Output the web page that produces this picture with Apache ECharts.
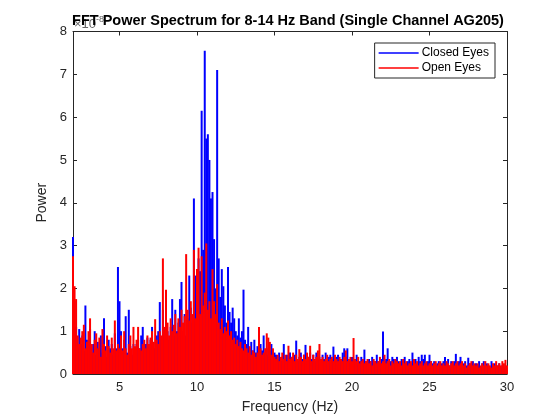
<!DOCTYPE html>
<html>
<head>
<meta charset="utf-8">
<script src="https://cdn.jsdelivr.net/npm/echarts@6/dist/echarts.min.js"></script>
<style>
  html, body { margin: 0; padding: 0; background: #fff; }
  #chart { width: 560px; height: 420px; }
</style>
</head>
<body>
<div id="chart"></div>
<script>
// frequency bins: 2 Hz .. 30 Hz, 0.1 Hz apart
const freqStart = 2;
const freqStep = 0.1;
const xTicks = [5, 10, 15, 20, 25, 30];

// power (x1e-8), one row per Hz
const closedEyes = [
  3.2, 1.7, 1.1, 0.6, 1.05, 0.7, 0.9, 0.55, 1.6, 0.8,
  0.6, 1.05, 0.5, 0.7, 1.0, 0.45, 0.75, 0.6, 0.9, 0.5,
  1.3, 0.65, 0.4, 0.8, 0.6, 0.7, 0.45, 0.95, 0.6, 2.5,
  1.7, 1.0, 0.6, 0.8, 1.35, 0.5, 1.5, 0.65, 0.45, 0.7,
  0.5, 0.7, 0.8, 0.6, 0.9, 1.1, 0.55, 0.7, 0.85, 0.6,
  0.8, 1.1, 0.75, 0.6, 0.9, 1.0, 1.68, 0.8, 1.5, 0.9,
  0.7, 1.0, 0.8, 1.1, 1.75, 0.9, 1.5, 1.0, 1.2, 1.75,
  2.15, 1.0, 1.4, 0.9, 1.3, 2.3, 1.55, 1.2, 4.1, 2.3,
  1.6, 2.7, 2.4, 6.15, 2.9, 7.55, 5.5, 5.6, 5.0, 4.1,
  4.25, 3.15, 2.0, 7.1, 2.7, 1.8, 2.45, 2.05, 1.6, 1.2,
  2.5, 1.45, 1.2, 1.55, 1.3, 1.0, 0.9, 1.3, 0.85, 1.0,
  1.97, 0.8, 0.7, 1.1, 0.6, 0.75, 0.55, 0.8, 0.5, 0.65,
  0.6, 0.7, 0.55, 0.9, 0.5, 0.6, 0.45, 0.55, 0.7, 0.4,
  0.5, 0.45, 0.35, 0.5, 0.3, 0.4, 0.7, 0.35, 0.45, 0.3,
  0.5, 0.4, 0.35, 0.45, 0.78, 0.3, 0.4, 0.5, 0.35, 0.45,
  0.68, 0.3, 0.4, 0.5, 0.35, 0.45, 0.3, 0.5, 0.35, 0.4,
  0.3, 0.45, 0.35, 0.5, 0.3, 0.4, 0.45, 0.35, 0.64, 0.3,
  0.4, 0.45, 0.3, 0.35, 0.5, 0.6, 0.4, 0.6, 0.3, 0.35,
  0.4, 0.3, 0.35, 0.45, 0.25, 0.3, 0.4, 0.35, 0.57, 0.3,
  0.25, 0.35, 0.3, 0.4, 0.25, 0.3, 0.45, 0.3, 0.25, 0.35,
  0.99, 0.3, 0.35, 0.6, 0.25, 0.3, 0.4, 0.35, 0.25, 0.4,
  0.3, 0.25, 0.35, 0.3, 0.4, 0.25, 0.3, 0.35, 0.25, 0.5,
  0.3, 0.35, 0.25, 0.4, 0.3, 0.45, 0.35, 0.45, 0.25, 0.3,
  0.45, 0.3, 0.25, 0.3, 0.2, 0.25, 0.3, 0.2, 0.25, 0.3,
  0.4, 0.25, 0.35, 0.2, 0.3, 0.25, 0.3, 0.47, 0.25, 0.3,
  0.4, 0.2, 0.25, 0.3, 0.2, 0.38, 0.25, 0.2, 0.3, 0.2,
  0.25, 0.2, 0.3, 0.15, 0.25, 0.3, 0.2, 0.25, 0.2, 0.15,
  0.3, 0.2, 0.25, 0.15, 0.2, 0.25, 0.15, 0.2, 0.15, 0.2,
  0.18
];

const openEyes = [
  2.75, 2.05, 1.75, 0.9, 0.7, 0.85, 1.0, 1.15, 0.6, 0.75,
  1.0, 1.3, 0.7, 0.5, 0.8, 0.95, 0.6, 0.85, 0.4, 1.05,
  0.7, 0.55, 0.9, 0.65, 0.5, 0.85, 0.6, 1.25, 0.55, 0.7,
  0.6, 0.9, 0.55, 1.0, 0.6, 0.45, 0.7, 0.9, 0.6, 1.1,
  0.65, 0.8, 1.1, 0.6, 0.55, 0.7, 0.8, 0.6, 0.9, 0.7,
  0.85, 1.0, 0.75, 1.28, 0.8, 0.7, 1.0, 0.9, 2.7, 1.1,
  1.97, 1.2, 0.9, 1.3, 1.0, 1.15, 1.4, 0.95, 1.3, 1.1,
  1.5, 1.2, 1.35, 2.8, 1.5, 1.25, 1.7, 1.4, 2.9, 1.3,
  2.45, 2.95, 1.4, 2.75, 1.6, 1.9, 3.05, 1.5, 1.7, 1.3,
  2.45, 1.7, 1.4, 2.1, 1.2, 1.05, 1.3, 0.95, 1.1, 1.0,
  1.25, 0.9, 1.0, 0.8, 0.85, 0.7, 0.8, 0.65, 0.75, 0.6,
  0.55, 0.7, 0.6, 0.5, 0.65, 0.45, 0.55, 0.5, 0.4, 0.5,
  1.1, 0.6, 0.45, 0.5, 0.6, 0.95, 0.85, 0.75, 0.45, 0.6,
  0.4, 0.35, 0.45, 0.3, 0.4, 0.5, 0.35, 0.45, 0.3, 0.66,
  0.35, 0.4, 0.5, 0.3, 0.45, 0.35, 0.58, 0.4, 0.3, 0.45,
  0.35, 0.5, 0.4, 0.66, 0.3, 0.45, 0.35, 0.4, 0.55, 0.7,
  0.35, 0.4, 0.3, 0.35, 0.45, 0.3, 0.35, 0.4, 0.3, 0.45,
  0.35, 0.3, 0.4, 0.35, 0.3, 0.4, 0.55, 0.3, 0.35, 0.4,
  0.3, 0.84, 0.35, 0.3, 0.4, 0.25, 0.3, 0.35, 0.25, 0.3,
  0.35, 0.25, 0.3, 0.2, 0.35, 0.3, 0.25, 0.3, 0.4, 0.25,
  0.3, 0.45, 0.25, 0.3, 0.35, 0.2, 0.3, 0.25, 0.35, 0.3,
  0.25, 0.3, 0.2, 0.35, 0.25, 0.3, 0.2, 0.25, 0.3, 0.2,
  0.35, 0.25, 0.3, 0.2, 0.25, 0.3, 0.2, 0.25, 0.3, 0.2,
  0.25, 0.3, 0.2, 0.25, 0.3, 0.2, 0.25, 0.3, 0.2, 0.25,
  0.2, 0.3, 0.25, 0.2, 0.25, 0.3, 0.2, 0.25, 0.3, 0.2,
  0.25, 0.3, 0.2, 0.25, 0.15, 0.2, 0.25, 0.3, 0.2, 0.25,
  0.2, 0.25, 0.15, 0.2, 0.25, 0.2, 0.3, 0.2, 0.25, 0.2,
  0.15, 0.25, 0.2, 0.3, 0.2, 0.25, 0.2, 0.3, 0.25, 0.33,
  0.2
];

const axisColor = '#262626';
const font = 'Liberation Sans, Arial, Helvetica, sans-serif';

function toPoints(values) {
  return values.map(function (v, i) {
    return [+(freqStart + i * freqStep).toFixed(2), v];
  });
}

const myChart = echarts.init(document.getElementById('chart'), null, { renderer: 'canvas' });

const baseX = {
  type: 'value',
  min: 2,
  max: 30,
  splitLine: { show: false },
  axisLine: { show: true, onZero: false, lineStyle: { color: axisColor, width: 1 } },
  axisTick: { show: true, inside: true, length: 4, customValues: xTicks, lineStyle: { color: axisColor } }
};
const baseY = {
  type: 'value',
  min: 0,
  max: 8,
  interval: 1,
  splitLine: { show: false },
  axisLine: { show: true, onZero: false, lineStyle: { color: axisColor, width: 1 } },
  axisTick: { show: true, inside: true, length: 4, lineStyle: { color: axisColor } }
};

const option = {
  animation: false,
  backgroundColor: '#fff',
  textStyle: { fontFamily: font },
  title: {
    text: 'FFT Power Spectrum for 8-14 Hz Band (Single Channel AG205)',
    left: 283,
    textAlign: 'center',
    top: 8,
    z: 10,
    textStyle: { fontSize: 14.5, fontWeight: 'bold', color: '#000', fontFamily: font }
  },
  graphic: [{
    type: 'text',
    left: 74,
    top: 15,
    z: 0,
    style: {
      text: '{b|×10}{s|-8}',
      fill: axisColor,
      rich: {
        b: { fontSize: 13, fontFamily: font, fill: '#666' },
        s: { fontSize: 9, fontFamily: font, fill: '#666', verticalAlign: 'top', padding: [0, 0, 9, 0] }
      }
    }
  }],
  legend: {
    orient: 'vertical',
    right: 65,
    top: 43,
    backgroundColor: '#fff',
    borderColor: axisColor,
    borderWidth: 1,
    borderRadius: 0,
    padding: [4, 6, 4, 4],
    itemWidth: 40,
    itemHeight: 1.5,
    itemGap: 3,
    textStyle: { fontSize: 12, color: '#000', fontFamily: font, padding: [0, 0, 0, -2] },
    data: [
      { name: 'Closed Eyes', icon: 'rect' },
      { name: 'Open Eyes', icon: 'rect' }
    ]
  },
  grid: { left: 73, right: 53, top: 31.5, bottom: 46, containLabel: false },
  xAxis: [
    Object.assign({}, baseX, {
      position: 'bottom',
      name: 'Frequency (Hz)',
      nameLocation: 'middle',
      nameGap: 26,
      nameTextStyle: { fontSize: 14, color: axisColor, fontFamily: font },
      axisLabel: { show: true, customValues: xTicks, margin: 7, fontSize: 13, color: axisColor, fontFamily: font }
    }),
    Object.assign({}, baseX, {
      position: 'top',
      axisLabel: { show: false }
    })
  ],
  yAxis: [
    Object.assign({}, baseY, {
      position: 'left',
      name: 'Power',
      nameLocation: 'middle',
      nameGap: 20,
      nameTextStyle: { fontSize: 14, color: axisColor, fontFamily: font },
      axisLabel: { show: true, margin: 6, fontSize: 13, color: axisColor, fontFamily: font }
    }),
    Object.assign({}, baseY, {
      position: 'right',
      axisLabel: { show: false }
    })
  ],
  series: [
    {
      name: 'Closed Eyes',
      type: 'bar',
      xAxisIndex: 0,
      yAxisIndex: 0,
      barWidth: 2,
      barGap: '-100%',
      itemStyle: { color: '#0000ff' },
      data: toPoints(closedEyes)
    },
    {
      name: 'Open Eyes',
      type: 'bar',
      xAxisIndex: 0,
      yAxisIndex: 0,
      barWidth: 2,
      barGap: '-100%',
      itemStyle: { color: '#ff0000' },
      data: toPoints(openEyes)
    }
  ]
};

myChart.setOption(option);
</script>
</body>
</html>
